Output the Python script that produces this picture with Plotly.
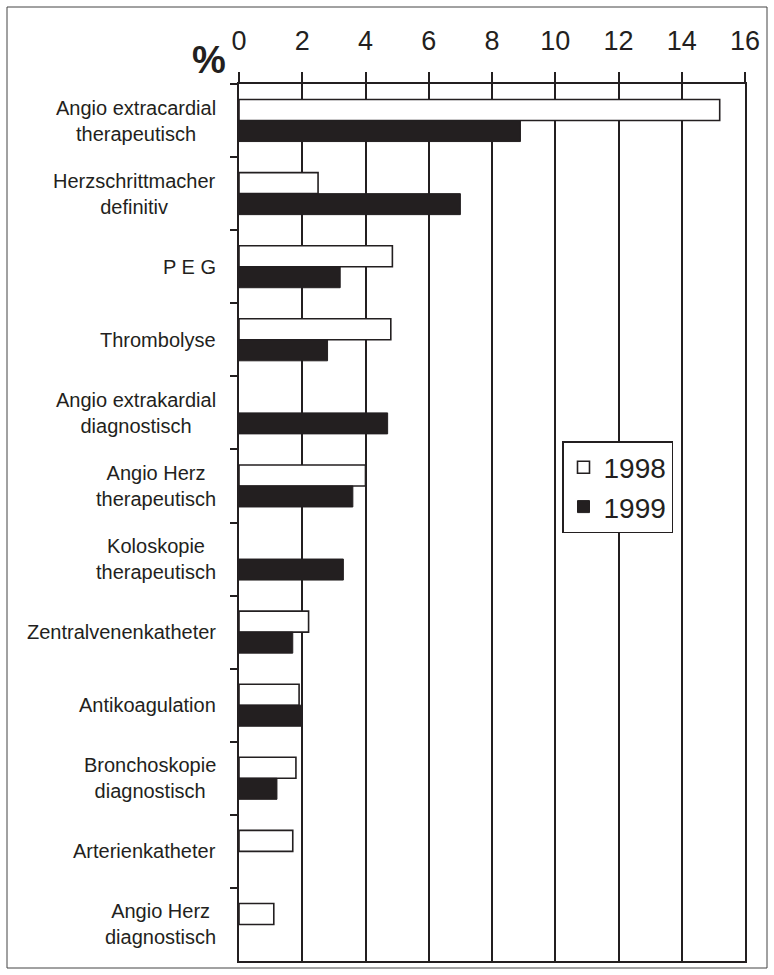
import plotly.graph_objects as go

categories = [
    "Angio extracardial<br>therapeutisch",
    "Herzschrittmacher<br>definitiv",
    "P E G",
    "Thrombolyse",
    "Angio extrakardial<br>diagnostisch",
    "Angio Herz<br>therapeutisch",
    "Koloskopie<br>therapeutisch",
    "Zentralvenenkatheter",
    "Antikoagulation",
    "Bronchoskopie<br>diagnostisch",
    "Arterienkatheter",
    "Angio Herz<br>diagnostisch",
]
values_1998 = [15.2, 2.5, 4.85, 4.8, None, 4.0, None, 2.2, 1.9, 1.8, 1.7, 1.1]
values_1999 = [8.9, 7.0, 3.2, 2.8, 4.7, 3.6, 3.3, 1.7, 2.0, 1.2, None, None]
x_ticks = [0, 2, 4, 6, 8, 10, 12, 14, 16]

INK = "#231f20"
FONT = "Arial, Liberation Sans, sans-serif"

fig = go.Figure()
fig.add_trace(go.Bar(
    name="1998", y=categories, x=values_1998, orientation="h",
    marker=dict(color="white", line=dict(color=INK, width=1.6)),
))
fig.add_trace(go.Bar(
    name="1999", y=categories, x=values_1999, orientation="h",
    marker=dict(color=INK, line=dict(color=INK, width=1.0)),
))

W, H = 774, 975
L, R, T, B = 239, 29, 84, 14
pw, ph = W - L - R, H - T - B

def px(xp):
    return (xp - L) / pw

def py(yp):
    return (H - B - yp) / ph

annotations = []
for c in categories:
    annotations.append(dict(
        text=c, x=px(218), xref="paper", y=c, yref="y",
        xanchor="right", yanchor="middle", align="center", showarrow=False,
        font=dict(family=FONT, size=20, color=INK),
    ))
annotations.append(dict(
    text="<b>%</b>", x=px(209), y=py(60), xref="paper", yref="paper",
    xanchor="center", yanchor="middle", showarrow=False,
    font=dict(family=FONT, size=38, color=INK),
))

fig.update_layout(
    width=W, height=H,
    margin=dict(l=L, r=R, t=T, b=B, autoexpand=False),
    paper_bgcolor="white", plot_bgcolor="white",
    barmode="group", bargap=0.425, bargroupgap=0,
    font=dict(family=FONT, color=INK),
    showlegend=True,
    legend=dict(
        x=px(562), y=py(441), xanchor="left", yanchor="top",
        bgcolor="white", bordercolor=INK, borderwidth=1.5,
        font=dict(family=FONT, size=28, color=INK),
        traceorder="normal", tracegroupgap=0,
    ),
    annotations=annotations,
    shapes=[dict(
        type="rect", xref="paper", yref="paper",
        x0=px(7), x1=px(767), y0=py(968), y1=py(7),
        line=dict(color="#444444", width=1), layer="below",
    )],
)
fig.update_xaxes(
    side="top", range=[0, 16], tickvals=x_ticks, automargin=False,
    ticks="outside", ticklen=10, tickwidth=1.6, tickcolor=INK,
    showline=True, linecolor=INK, linewidth=1.6, mirror=True,
    showgrid=True, gridcolor=INK, gridwidth=1.6, zeroline=False,
    tickfont=dict(family=FONT, size=27, color=INK), ticklabelstandoff=11,
)
fig.update_yaxes(
    autorange="reversed", type="category", automargin=False,
    showticklabels=False, ticks="outside", tickson="boundaries",
    ticklen=7, tickwidth=1.6, tickcolor=INK,
    showline=True, linecolor=INK, linewidth=1.6, mirror=True,
    showgrid=False, zeroline=False,
)

fig.write_html(
    "out.html",
    config={"displayModeBar": False},
    post_script="document.body.style.margin='0';document.body.style.overflow='hidden';",
)
